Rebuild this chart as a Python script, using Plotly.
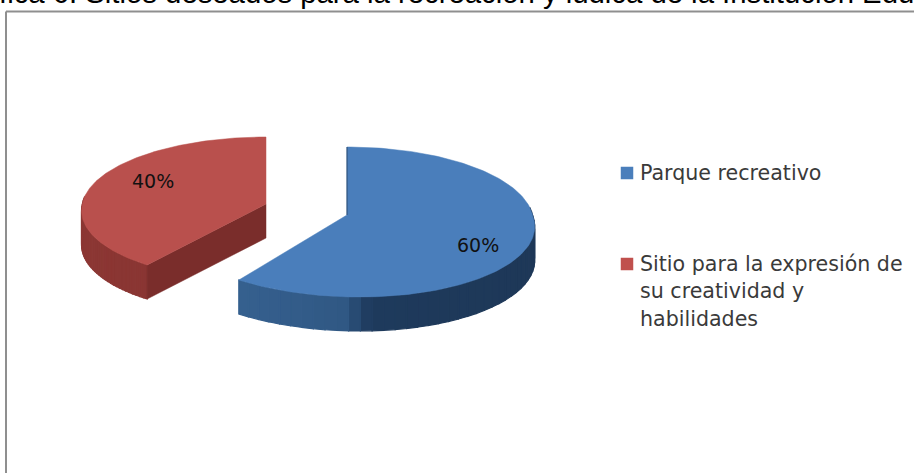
import math
import plotly.graph_objects as go

categories = ["Parque recreativo", "Sitio para la expresión de su creatividad y habilidades"]
values = [60, 40]
legend_lines = [["Parque recreativo"], ["Sitio para la expresión de", "su creatividad y", "habilidades"]]
title_text = "fica 6. Sitios deseados para la recreación y lúdica de la Institución Edu"

top_colors = ["#4a7ebb", "#b9504d"]
legend_colors = ["#4a7ebb", "#c0504d"]
FONT = "DejaVu Sans"

# pie geometry in the picture's coordinate frame:
# centre, horizontal / vertical radius, perspective, shear of the near half, thickness
geo = [
    dict(cx=347, cy=215, A=185.5, B=74.35, p=0.0934, shear=0.15, depth=34),
    dict(cx=266, cy=204, A=183.6, B=71.4, p=0.0657, shear=-0.08, depth=34),
]
side_stops = [
    [(0.0, (58, 102, 150)), (0.49, (48, 88, 132)), (0.56, (30, 58, 92)), (1.0, (30, 56, 88))],
    [(0.0, (140, 55, 52)), (1.0, (125, 46, 44))],
]
inner_color = "#7a2d2b"


def pt(g, deg):
    t = math.radians(deg)
    X, Y = math.sin(t), math.cos(t)
    w = 1 + g["p"] * Y
    dy = -g["B"] * Y / w
    x = g["cx"] + g["A"] * X / w + (g["shear"] * dy if dy > 0 else 0)
    return x, g["cy"] + dy


def mix(stops, f):
    for (f0, c0), (f1, c1) in zip(stops, stops[1:]):
        if f <= f1:
            k = (f - f0) / (f1 - f0)
            return "rgb(%d,%d,%d)" % tuple(round(a + (b - a) * k) for a, b in zip(c0, c1))
    return "rgb(%d,%d,%d)" % stops[-1][1]


fig = go.Figure()


def poly(xs, ys, color, lw=0.5):
    fig.add_trace(go.Scatter(x=xs, y=ys, mode="lines", fill="toself", fillcolor=color,
                             line=dict(color=color, width=lw), hoverinfo="skip", showlegend=False))


total = sum(values)
start = 0.0
for i, v in enumerate(values):
    g = geo[i]
    end = start + 360.0 * v / total
    # outer wall: the part that faces the viewer, later covered by the top face where it does not show
    lo, hi = max(start, 84), min(end, 276)
    n = 40
    x_min, x_max = pt(g, 270)[0], pt(g, 90)[0]
    for k in range(n):
        d0 = lo + (hi - lo) * k / n
        d1 = lo + (hi - lo) * (k + 1) / n
        x0, y0 = pt(g, d0)
        x1, y1 = pt(g, d1)
        f = min(max(((x0 + x1) / 2 - x_min) / (x_max - x_min), 0), 1)
        poly([x0, x1, x1, x0, x0], [y0, y1, y1 + g["depth"], y0 + g["depth"], y0],
             mix(side_stops[i], f), lw=1.2)
    # visible cut face
    if i == 1:
        ax, ay = pt(g, start)
        poly([g["cx"], ax, ax, g["cx"], g["cx"]],
             [g["cy"], ay, ay + g["depth"], g["cy"] + g["depth"], g["cy"]], inner_color)
    # top face
    steps = 180
    arc = [pt(g, start + (end - start) * s / steps) for s in range(steps + 1)]
    poly([g["cx"]] + [p[0] for p in arc] + [g["cx"]],
         [g["cy"]] + [p[1] for p in arc] + [g["cy"]], top_colors[i])
    start = end

# small dark sliver on the blue slice's vertical cut
top_x, top_y = pt(geo[0], 0)
fig.add_trace(go.Scatter(x=[geo[0]["cx"], top_x], y=[geo[0]["cy"], top_y],
                         mode="lines", line=dict(color="#2a4a70", width=1), hoverinfo="skip", showlegend=False))

annotations = []


def label(x, y, text, size=20, anchor="center", color="#111111", family=FONT):
    annotations.append(dict(x=x, y=y, xref="x", yref="y", text=text, showarrow=False, xanchor=anchor,
                            yanchor="middle", font=dict(family=family, size=size, color=color)))


label(153, 181, f"{values[1]}%", size=19)
label(478, 245, f"{values[0]}%", size=19)

# legend
legend_y = [[173], [264, 291, 319]]
for i, lines in enumerate(legend_lines):
    fig.add_trace(go.Scatter(x=[627], y=[legend_y[i][0]], mode="markers", name=categories[i],
                             marker=dict(symbol="square", size=12.5, color=legend_colors[i]),
                             hoverinfo="skip", showlegend=False))
    for line, y in zip(lines, legend_y[i]):
        label(638, y, line, size=20.6, anchor="left", color="#3a3a3a")

# caption cut by the picture's top edge
annotations.append(dict(x=-3 / 914, y=1 + 7.5 / 473, xref="paper", yref="paper", text=title_text, showarrow=False,
                        xanchor="left", yanchor="middle",
                        font=dict(family="Liberation Sans", size=29.3, color="#000000")))

shapes = [dict(type="line", xref="x", yref="y", x0=6, y0=11.5, x1=914, y1=11.5, line=dict(color="#8f8f8f", width=2)),
          dict(type="line", xref="x", yref="y", x0=6, y0=11.5, x1=6, y1=473, line=dict(color="#8f8f8f", width=2))]

fig.update_layout(
    width=914, height=473, autosize=False,
    margin=dict(l=0, r=0, t=0, b=0),
    paper_bgcolor="white", plot_bgcolor="white",
    xaxis=dict(range=[0, 914], visible=False, fixedrange=True),
    yaxis=dict(range=[473, 0], visible=False, fixedrange=True),
    annotations=annotations, shapes=shapes, showlegend=False,
)
fig.write_html("out.html", config={"displayModeBar": False},
               post_script="document.body.style.margin='0';document.documentElement.style.overflow='hidden';")
